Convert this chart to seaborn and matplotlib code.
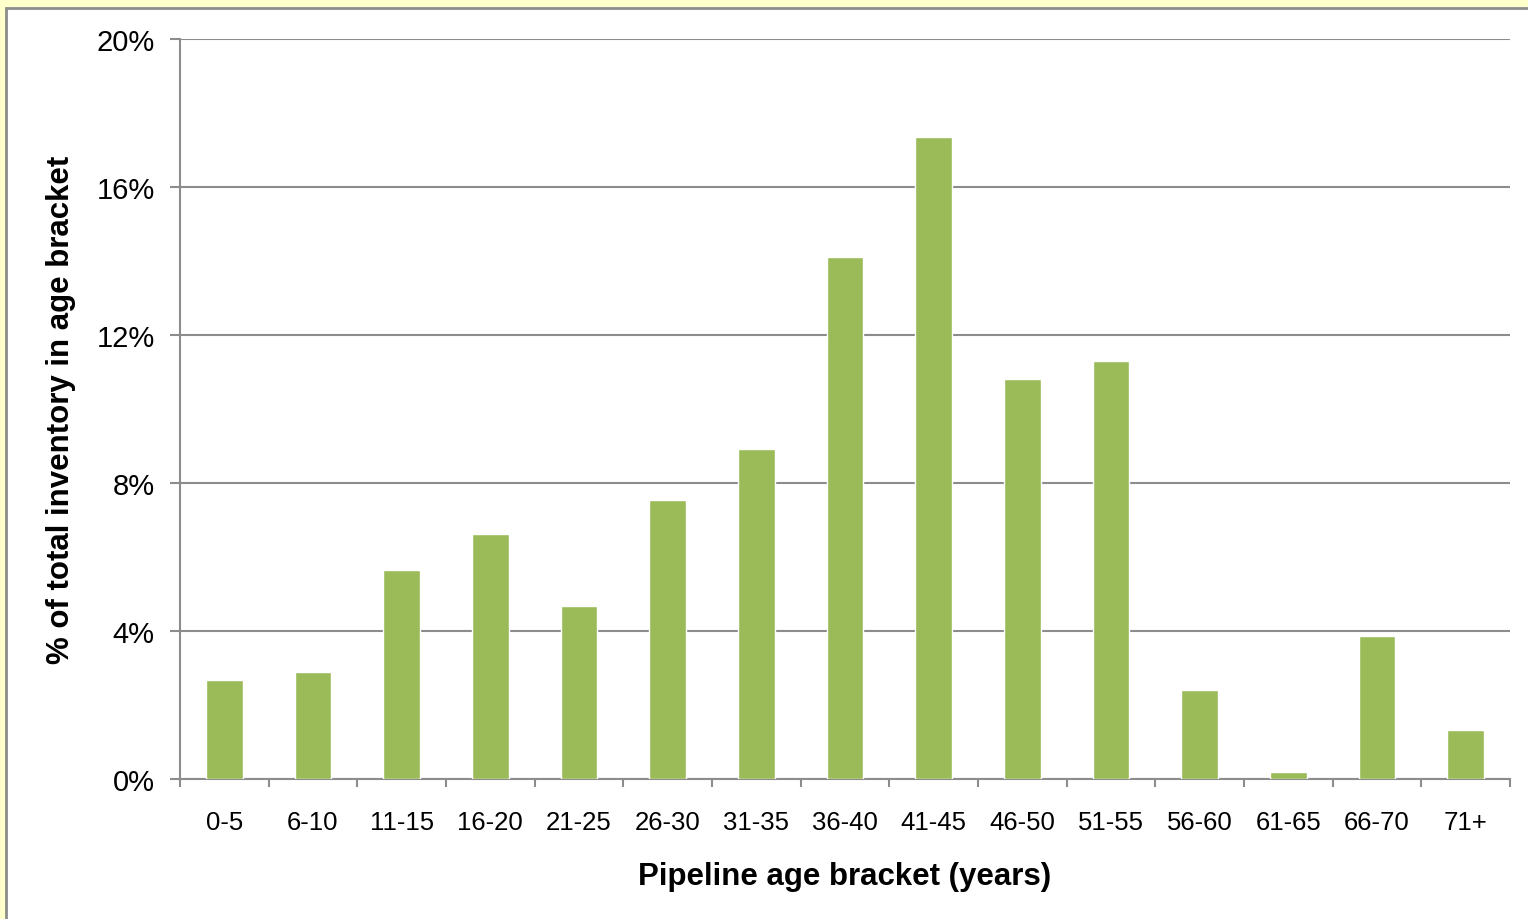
import matplotlib
matplotlib.use("Agg")
import matplotlib.pyplot as plt
import matplotlib.patches as mpatches
from matplotlib.ticker import FuncFormatter, MultipleLocator
import pandas as pd
import seaborn as sns

# Data
brackets = ["0-5", "6-10", "11-15", "16-20", "21-25", "26-30", "31-35", "36-40",
            "41-45", "46-50", "51-55", "56-60", "61-65", "66-70", "71+"]
share = [2.68, 2.89, 5.65, 6.62, 4.68, 7.54, 8.92, 14.11,
         17.35, 10.81, 11.30, 2.41, 0.19, 3.86, 1.32]

df = pd.DataFrame({"bracket": brackets, "share": share})

sns.set_style("white")
plt.rcParams["font.family"] = ["Liberation Sans", "DejaVu Sans"]
plt.rcParams["text.color"] = "black"
plt.rcParams["axes.labelcolor"] = "black"
plt.rcParams["xtick.color"] = "black"
plt.rcParams["ytick.color"] = "black"

W, H = 1528, 920
fig = plt.figure(figsize=(W / 100, H / 100), dpi=100)
fig.patch.set_facecolor("#FFFFCC")

# white chart panel with grey border (drawn behind the axes)
panel = mpatches.Rectangle((6 / W, -0.05), 1.05, 1 - 9 / H + 0.05,
                           transform=fig.transFigure, facecolor="white",
                           edgecolor="#8C8C8C", linewidth=2, zorder=-1)
fig.patches.append(panel)

ax = fig.add_axes([180 / W, 1 - 780 / H, (1510 - 180) / W, (780 - 40) / H])
ax.set_facecolor("white")

sns.barplot(data=df, x="bracket", y="share", color="#9BBB59", saturation=1,
            width=0.41, ax=ax, zorder=3)

ax.set_ylim(0, 20)
ax.set_xlim(-0.5, len(brackets) - 0.5)
ax.yaxis.set_major_locator(MultipleLocator(4))
ax.yaxis.set_major_formatter(FuncFormatter(lambda v, p: f"{v:.0f}%"))
ax.grid(axis="y", color="#8C8C8C", linewidth=1.5, zorder=1)
ax.set_axisbelow(True)

for s in ["top", "right"]:
    ax.spines[s].set_visible(False)
for s in ["left", "bottom"]:
    ax.spines[s].set_color("#8C8C8C")
    ax.spines[s].set_linewidth(1.5)

# x ticks at category boundaries, labels centred on bars
ax.set_xticks([i - 0.5 for i in range(len(brackets) + 1)], minor=False)
ax.set_xticklabels([])
ax.set_xticks(range(len(brackets)), minor=True)
ax.set_xticklabels(brackets, minor=True)
ax.tick_params(axis="x", which="major", length=6, width=1.5, color="#8C8C8C",
               direction="out", bottom=True)
ax.tick_params(axis="x", which="minor", length=0, pad=22, labelsize=18.5)
ax.tick_params(axis="y", length=7.2, width=1.5, color="#8C8C8C",
               direction="out", left=True, labelsize=21, pad=11)

ax.set_xlabel("Pipeline age bracket (years)", fontsize=22.5, fontweight="bold",
              labelpad=20)
ax.set_ylabel("% of total inventory in age bracket", fontsize=22.5,
              fontweight="bold", labelpad=15)

fig.savefig("out.png", dpi=100, facecolor=fig.get_facecolor())
